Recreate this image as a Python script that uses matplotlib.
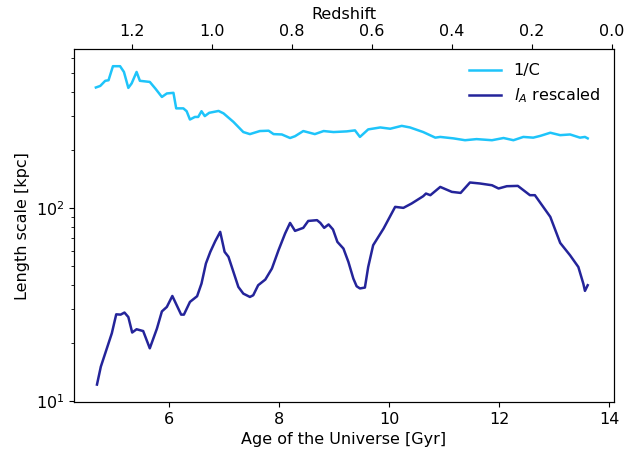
import numpy as np
import matplotlib
matplotlib.use("Agg")
import matplotlib.pyplot as plt

# 1/C
age_c = [4.67, 4.75, 4.84, 4.90, 4.98, 5.11, 5.18, 5.26, 5.32, 5.41, 5.47, 5.65, 5.75,
         5.87, 5.96, 6.08, 6.13, 6.26, 6.32, 6.38, 6.47, 6.53, 6.59, 6.65, 6.73, 6.90,
         6.99, 7.17, 7.35, 7.47, 7.65, 7.81, 7.90, 8.05, 8.20, 8.29, 8.44, 8.65, 8.81,
         8.99, 9.23, 9.38, 9.47, 9.62, 9.84, 10.02, 10.23, 10.38, 10.62, 10.84, 10.93,
         11.17, 11.38, 11.59, 11.87, 12.08, 12.26, 12.44, 12.62, 12.75, 12.93, 13.11,
         13.29, 13.47, 13.56, 13.61]
inv_c = [422, 430, 457, 460, 544, 544, 508, 420, 443, 508, 457, 451, 417,
         377, 393, 396, 329, 329, 318, 288, 297, 297, 318, 300, 312, 319,
         310, 280, 248, 242, 251, 252, 242, 241, 231, 236, 251, 242, 251,
         248, 250, 253, 234, 256, 262, 258, 267, 262, 248, 232, 234,
         230, 225, 228, 225, 231, 225, 234, 232, 237, 246, 239,
         241, 232, 234, 230]

# l_A rescaled
age_l = [4.69, 4.76, 4.87, 4.96, 5.04, 5.12, 5.19, 5.26, 5.33, 5.41, 5.53, 5.65, 5.78,
         5.87, 5.96, 6.06, 6.14, 6.22, 6.27, 6.38, 6.51, 6.59, 6.67, 6.75, 6.84, 6.93,
         7.01, 7.08, 7.17, 7.26, 7.35, 7.47, 7.53, 7.62, 7.75, 7.87, 7.99, 8.11, 8.20,
         8.29, 8.44, 8.53, 8.69, 8.75, 8.82, 8.90, 8.98, 9.06, 9.17, 9.26, 9.35, 9.41,
         9.47, 9.56, 9.62, 9.71, 9.90, 10.11, 10.26, 10.41, 10.62, 10.67, 10.75, 10.93,
         11.14, 11.30, 11.47, 11.65, 11.87, 11.99, 12.14, 12.34, 12.56, 12.65, 12.93,
         13.11, 13.29, 13.44, 13.53, 13.56, 13.61]
l_a = [12.2, 15.1, 18.8, 22.5, 28.2, 28.1, 28.8, 27.3, 22.7, 23.6, 23.1, 18.8, 23.8,
       29.2, 30.8, 35.1, 31.4, 28.1, 28.1, 32.7, 35.0, 40.7, 51.7, 59.4, 67.5, 75.4,
       59.4, 56.0, 46.8, 39.1, 36.1, 34.7, 35.4, 39.9, 42.7, 48.7, 60.6, 74.0, 83.9,
       76.3, 79.1, 85.9, 86.7, 83.9, 79.1, 82.4, 77.6, 66.9, 61.8, 52.7, 43.2, 39.4,
       38.4, 38.8, 49.6, 64.3, 78.5, 101.6, 100.4, 105.8, 115.4, 119.1, 116.8, 128.9,
       121.5, 120.0, 135.9, 134.3, 131.5, 126.5, 130.0, 130.5, 116.8, 116.8, 90.2,
       66.1, 57.0, 49.6, 40.7, 37.3, 39.9]

z_ticks = [1.2, 1.0, 0.8, 0.6, 0.4, 0.2, 0.0]

plt.rcParams['font.size'] = 11.5

fig, ax = plt.subplots(figsize=(6.26, 4.59), dpi=100)
fig.subplots_adjust(left=0.118, right=0.981, bottom=0.124, top=0.893)

ax.plot(age_c, inv_c, color='#1ec4fa', lw=1.8, label='1/C')
ax.plot(age_l, l_a, color='#24249a', lw=1.8, label='$l_A$ rescaled')
ax.set_yscale('log')
ax.set_xlim(4.27, 14.09)
ax.set_ylim(9.9, 667)
ax.set_xticks([6, 8, 10, 12, 14])
ax.set_xlabel('Age of the Universe [Gyr]')
ax.set_ylabel('Length scale [kpc]')
ax.legend(loc='upper right', frameon=False)

# axe du haut : redshift
ax2 = ax.twiny()
ax2.set_xlim(1.345, -0.005)
ax2.set_xticks(z_ticks)
ax2.set_xticklabels(['%.1f' % z for z in z_ticks])
ax2.set_xlabel('Redshift')

fig.savefig('out.png', dpi=100)
